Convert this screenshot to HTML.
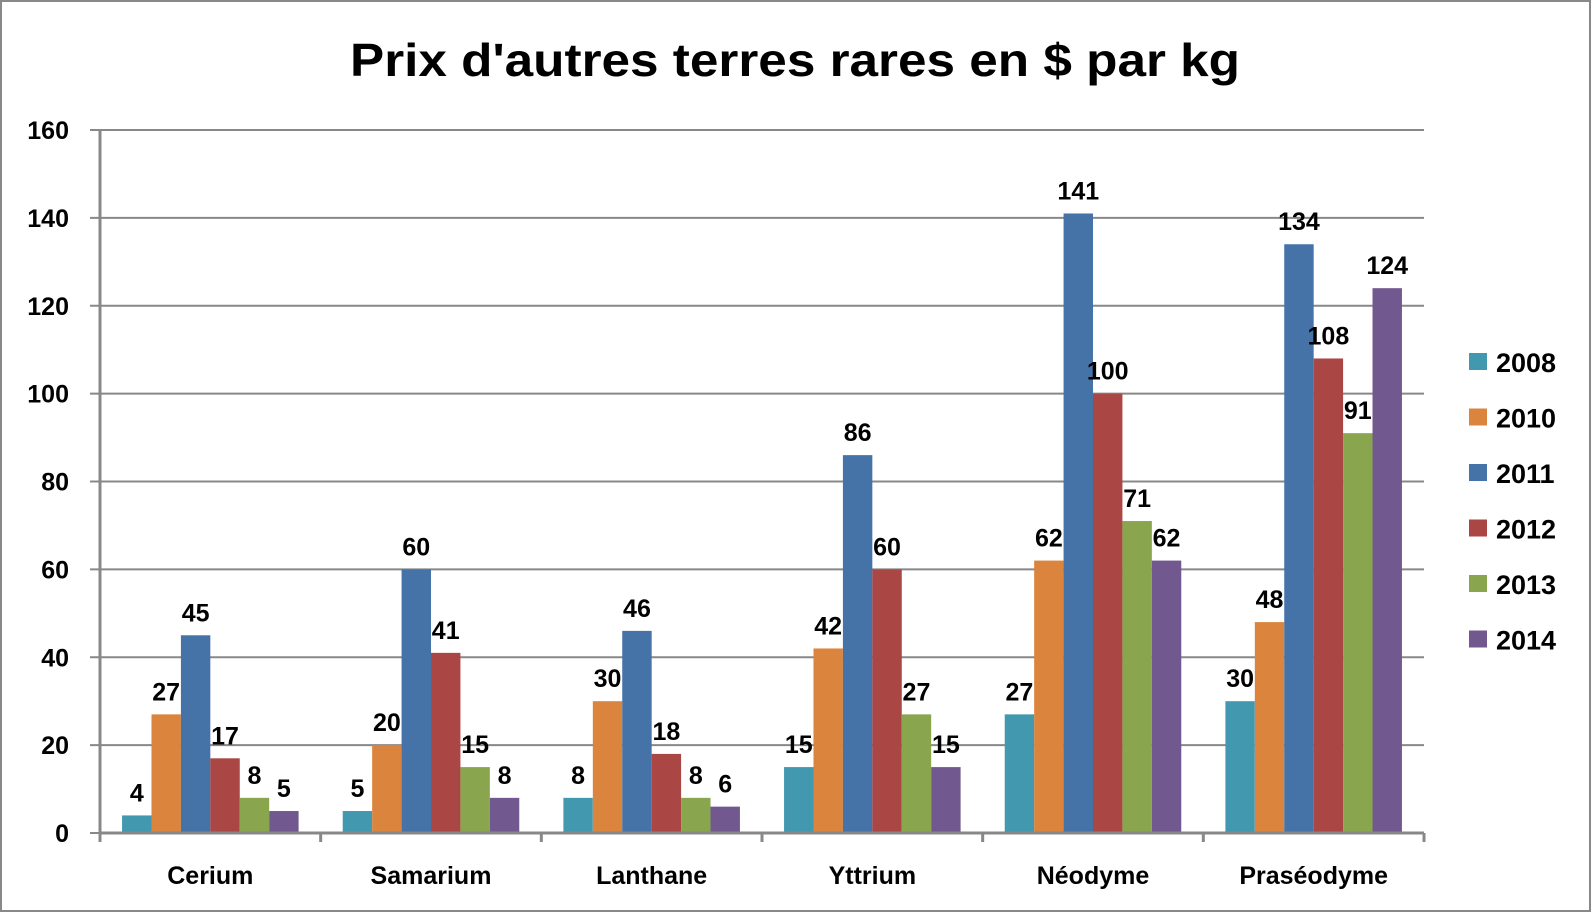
<!DOCTYPE html>
<html><head><meta charset="utf-8"><style>
html,body{margin:0;padding:0;background:#fff}
svg{display:block}
text{font-family:"Liberation Sans",sans-serif;font-weight:bold;fill:#000}
</style></head><body>
<svg id="chart" width="1591" height="912" viewBox="0 0 1591 912">
<rect x="1" y="1" width="1589" height="910" fill="#fff" stroke="#888" stroke-width="2"/>
<text x="795" y="76" text-anchor="middle" font-size="46" textLength="890" lengthAdjust="spacingAndGlyphs">Prix d'autres terres rares en $ par kg</text>
<g id="grid"></g><g id="bars"></g><g id="labels"></g><g id="axes"></g><g id="legend"></g>
</svg>
<script>
const categories = ["Cerium","Samarium","Lanthane","Yttrium","Néodyme","Praséodyme"];
const seriesNames = ["2008","2010","2011","2012","2013","2014"];
const s2008 = [4,5,8,15,27,30];
const s2010 = [27,20,30,42,62,48];
const s2011 = [45,60,46,86,141,134];
const s2012 = [17,41,18,60,100,108];
const s2013 = [8,15,8,27,71,91];
const s2014 = [5,8,6,15,62,124];
const yTicks = [0,20,40,60,80,100,120,140,160];
const colors = ["#4198AF","#DB843D","#4572A7","#AA4643","#89A54E","#71588F"];
const series = [s2008,s2010,s2011,s2012,s2013,s2014];

const NS="http://www.w3.org/2000/svg";
const X0=100, X1=1424, Y0=833, Y1=130, YMAX=160;
const y = v => Y0 - (v/YMAX)*(Y0-Y1);
const groupW=(X1-X0)/categories.length;
const barW=groupW*0.8/series.length;
const gx = i => X0 + i*groupW;
function mk(tag, attrs, parent){const e=document.createElementNS(NS,tag);for(const k in attrs)e.setAttribute(k,attrs[k]);document.getElementById(parent).appendChild(e);return e;}

yTicks.forEach(t=>{
  const l=mk('line',{x1:90,x2:X1,y1:y(t),y2:y(t),stroke:'#888','stroke-width':2},'grid');
  
  
  const tx=mk('text',{x:69,y:y(t)+9,'text-anchor':'end','font-size':25},'axes');
  tx.textContent=t;
  
  
});
const ax=mk('line',{x1:X0,x2:X0,y1:Y1,y2:Y0+8,stroke:'#888','stroke-width':3},'axes');


const bx=mk('line',{x1:X0,x2:X1,y1:Y0,y2:Y0,stroke:'#888','stroke-width':3},'axes');


for(let i=0;i<=categories.length;i++){
  const tk=mk('line',{x1:gx(i),x2:gx(i),y1:Y0,y2:Y0+9,stroke:'#888','stroke-width':3},'axes');
  
  
}
categories.forEach((c,i)=>{
  const tx=mk('text',{x:gx(i)+groupW/2,y:884,'text-anchor':'middle','font-size':25},'axes');
  tx.textContent=c;
  
  
  series.forEach((s,j)=>{
    const bxp=gx(i)+groupW*0.1+j*barW;
    const r=mk('rect',{x:bxp,y:y(s[i]),width:barW,height:Y0-y(s[i]),fill:colors[j]},'bars');
    
    
    const lb=mk('text',{x:bxp+barW/2,y:y(s[i])-14,'text-anchor':'middle','font-size':25},'labels');
    lb.textContent=s[i];
    
    
  });
});
seriesNames.forEach((n,j)=>{
  const cy=362+j*55.5;
  const sw=mk('rect',{x:1469,y:cy-9,width:18,height:17,fill:colors[j]},'legend');
  
  
  const tx=mk('text',{x:1496,y:cy+10,'font-size':27},'legend');
  tx.textContent=n;
  
  
});
</script>
</body></html>
